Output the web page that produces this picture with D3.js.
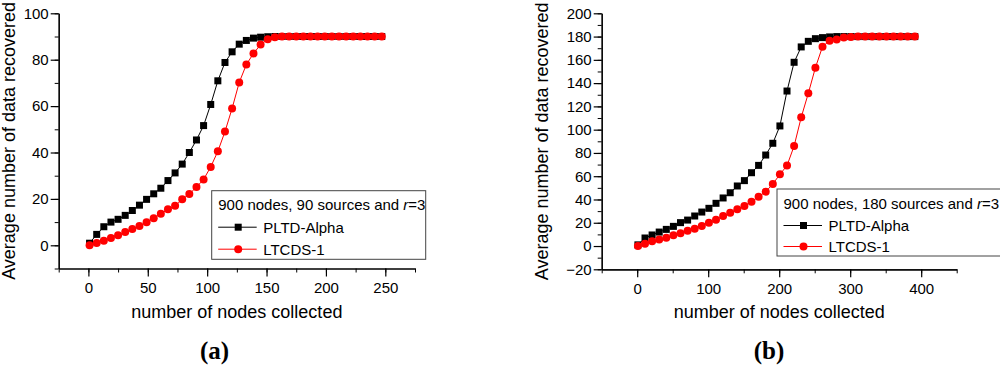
<!DOCTYPE html>
<html>
<head>
<meta charset="utf-8">
<script src="https://cdn.jsdelivr.net/npm/d3@7"></script>
<style>
  body { margin: 0; background: #fff; }
  text { font-family: Arial, "Liberation Sans", sans-serif; }
</style>
</head>
<body>
<div id="visualization"></div>
<script>
// Panel (a): 900 nodes, 90 sources
const xA = [1, 7, 13, 19, 25, 31, 37, 43, 49, 55, 61, 67, 73, 79, 85, 91, 97, 103, 109, 115, 121,
            127, 133, 139, 145, 151, 157, 163, 169, 175, 181, 187, 193, 199, 205, 211, 217, 223, 229, 235, 241, 247];
const pltdA = [0.9, 4.7, 8.0, 10.0, 11.2, 12.9, 15.0, 17.3, 19.8, 22.2, 24.6, 27.9, 31.2, 35.0, 40.0, 45.4,
               51.6, 60.7, 70.9, 78.8, 83.4, 86.7, 88.3, 89.3, 89.7, 89.9,
               90, 90, 90, 90, 90, 90, 90, 90, 90, 90, 90, 90, 90, 90, 90, 90];
const ltcdsA = [0, 1.0, 2.0, 3.2, 4.3, 5.7, 7.0, 8.3, 9.9, 11.7, 13.6, 15.5, 17.0, 19.8, 22.1, 25.1,
                28.4, 33.8, 40.5, 49.0, 59.0, 70.2, 77.9, 82.7, 86.5, 88.8, 89.7, 90,
                90, 90, 90, 90, 90, 90, 90, 90, 90, 90, 90, 90, 90, 90];

// Panel (b): 900 nodes, 180 sources
const xB = [1, 11, 21, 31, 41, 51, 61, 71, 81, 91, 101, 111, 121, 131, 141, 151, 161, 171, 181, 191,
            201, 211, 221, 231, 241, 251, 261, 271, 281, 291, 301, 311, 321, 331, 341, 351, 361, 371, 381, 391];
const pltdB = [1, 6.9, 9.5, 12.0, 14.3, 16.9, 20.1, 22.3, 25.8, 29.2, 32.4, 36.7, 41.3, 45.8, 51.6, 56.2,
               63.0, 69.3, 78.2, 88.3, 103.2, 133.2, 157.9, 171.1, 175.9, 178.2, 179.1, 179.7,
               180, 180, 180, 180, 180, 180, 180, 180, 180, 180, 180, 180];
const ltcdsB = [0, 2, 4, 5.7, 7.2, 9.2, 10.9, 13.2, 14.9, 17.2, 20.1, 22.6, 25.8, 28.7, 31.5, 34.4,
                38.1, 42.4, 46.7, 53.3, 61.6, 69.1, 86.0, 110.6, 131.2, 153.3, 171.3, 176.5, 177.4, 179.1, 179.7,
                180, 180, 180, 180, 180, 180, 180, 180, 180];

const seriesNames = ["PLTD-Alpha", "LTCDS-1"];
const xTitle = "number of nodes collected";
const yTitle = "Average number of data recovered";

const svg = d3.select("#visualization").append("svg")
    .attr("width", 1000)
    .attr("height", 365);

function drawPanel(p) {
    const g = svg.append("g");

    const x = d3.scaleLinear().domain(p.xDomain).range([p.left, p.right]);
    const y = d3.scaleLinear().domain(p.yDomain).range([p.bottom, p.top]);

    // minor ticks
    g.append("g")
        .attr("transform", `translate(0,${p.bottom})`)
        .call(d3.axisBottom(x).tickValues(d3.range(p.xDomain[0], p.xDomain[1] + 1, p.xMinor))
              .tickSize(4).tickFormat("").tickSizeOuter(0));
    g.append("g")
        .attr("transform", `translate(${p.left},0)`)
        .call(d3.axisLeft(y).tickValues(d3.range(p.yDomain[0], p.yDomain[1] + 1, 10))
              .tickSize(4).tickFormat("").tickSizeOuter(0));

    // major ticks with labels
    const xAxis = g.append("g")
        .attr("transform", `translate(0,${p.bottom})`)
        .call(d3.axisBottom(x).tickValues(p.xTicks).tickSize(8).tickPadding(6).tickSizeOuter(0));
    const yAxis = g.append("g")
        .attr("transform", `translate(${p.left},0)`)
        .call(d3.axisLeft(y).tickValues(p.yTicks).tickSize(8).tickPadding(2).tickSizeOuter(0));

    [xAxis, yAxis].forEach(a => {
        a.selectAll("text").style("font-size", "15px").attr("fill", "#000")
            .style("font-family", "Arial, 'Liberation Sans', sans-serif");
        a.selectAll("line, path").attr("stroke", "#000").attr("stroke-width", 1.2);
    });
    g.selectAll(".domain").attr("stroke", "#000").attr("stroke-width", 1.2);

    // axis titles
    g.append("text")
        .attr("x", (p.left + p.right) / 2)
        .attr("y", 318)
        .attr("text-anchor", "middle")
        .style("font-size", "18px")
        .text(xTitle);
    g.append("text")
        .attr("transform", `translate(${p.yTitleX},${(p.top + p.bottom) / 2}) rotate(-90)`)
        .attr("text-anchor", "middle")
        .style("font-size", "18px")
        .text(yTitle);

    // panel label
    g.append("text")
        .attr("x", p.labelX)
        .attr("y", 359)
        .attr("text-anchor", "middle")
        .style("font-family", "'Liberation Serif', 'Times New Roman', serif")
        .style("font-size", "25px")
        .style("font-weight", "bold")
        .text(p.label);

    const line = d3.line().x(d => x(d[0])).y(d => y(d[1]));
    const black = p.xs.map((v, i) => [v, p.pltd[i]]);
    const red = p.xs.map((v, i) => [v, p.ltcds[i]]);

    g.append("path").datum(black)
        .attr("fill", "none").attr("stroke", "#000").attr("stroke-width", 1)
        .attr("d", line);
    g.selectAll(".sq").data(black).enter().append("rect")
        .attr("class", "sq")
        .attr("x", d => x(d[0]) - 3.5).attr("y", d => y(d[1]) - 3.5)
        .attr("width", 7).attr("height", 7)
        .attr("fill", "#000");

    g.append("path").datum(red)
        .attr("fill", "none").attr("stroke", "#f00").attr("stroke-width", 1)
        .attr("d", line);
    g.selectAll(".dot").data(red).enter().append("circle")
        .attr("class", "dot")
        .attr("cx", d => x(d[0])).attr("cy", d => y(d[1]))
        .attr("r", 4)
        .attr("fill", "#f00");

    // legend
    const lg = g.append("g").attr("transform", `translate(${p.legX},${p.legY})`);
    lg.append("rect")
        .attr("width", p.legW).attr("height", p.legH)
        .attr("fill", "#fff").attr("stroke", "#444").attr("stroke-width", 1);
    const head = lg.append("text").attr("x", 6.5).attr("y", 19.5).style("font-size", "15px");
    head.append("tspan").text(p.legTitle + " and ");
    head.append("tspan").style("font-style", "italic").text("r");
    head.append("tspan").text("=3");

    const rows = [{c: "#000", m: "sq"}, {c: "#f00", m: "dot"}];
    rows.forEach((r, i) => {
        const yy = 36.5 + i * p.legRow;
        lg.append("line").attr("x1", 6.5).attr("x2", 45).attr("y1", yy).attr("y2", yy)
            .attr("stroke", r.c).attr("stroke-width", 1);
        if (r.m === "sq") {
            lg.append("rect").attr("x", 26.5 - 3.5).attr("y", yy - 3.5)
                .attr("width", 7).attr("height", 7).attr("fill", r.c);
        } else {
            lg.append("circle").attr("cx", 26.5).attr("cy", yy).attr("r", 4).attr("fill", r.c);
        }
        lg.append("text").attr("x", 51.5).attr("y", yy + 5.5)
            .style("font-size", "15px").text(seriesNames[i]);
    });
}

drawPanel({
    xs: xA, pltd: pltdA, ltcds: ltcdsA,
    xDomain: [-25, 275], yDomain: [-10, 100],
    xTicks: [0, 50, 100, 150, 200, 250], xMinor: 25,
    yTicks: [0, 20, 40, 60, 80, 100],
    left: 58.7, right: 415, top: 13.3, bottom: 268.5,
    yTitleX: 15, label: "(a)", labelX: 214.5,
    legX: 211.7, legY: 190.7, legW: 214, legH: 68.6, legRow: 22,
    legTitle: "900 nodes, 90 sources"
});

drawPanel({
    xs: xB, pltd: pltdB, ltcds: ltcdsB,
    xDomain: [-50, 450], yDomain: [-20, 200],
    xTicks: [0, 100, 200, 300, 400], xMinor: 50,
    yTicks: d3.range(-20, 201, 20),
    left: 601.7, right: 956.7, top: 13.3, bottom: 269.3,
    yTitleX: 548, label: "(b)", labelX: 769,
    legX: 777, legY: 189, legW: 240, legH: 67, legRow: 21,
    legTitle: "900 nodes, 180 sources"
});
</script>
</body>
</html>
